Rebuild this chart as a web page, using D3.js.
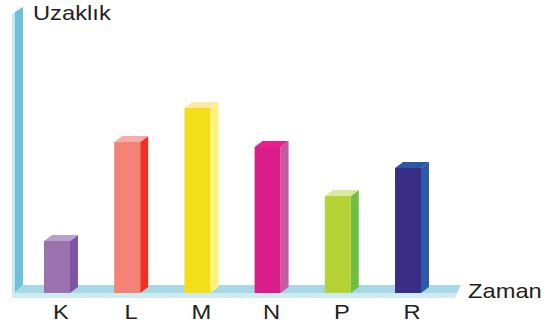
<!DOCTYPE html>
<html>
<head>
<meta charset="utf-8">
<script src="https://cdn.jsdelivr.net/npm/d3@7"></script>
<style>
html,body{margin:0;padding:0;background:#fff;}
svg{display:block;}
text{font-family:"Liberation Sans",Arial,Helvetica,sans-serif;fill:#231f20;}
</style>
</head>
<body>
<svg id="chart" width="553" height="329"></svg>
<script>
// ---- data ----
const categories = ["K", "L", "M", "N", "P", "R"];
const values = [52, 151, 185, 146, 97, 125];
const yAxisTitle = "Uzaklık";
const xAxisTitle = "Zaman";

// ---- styles ----
const frontColors = ["#9b71b0", "#f58276", "#f2df1a", "#d91e8c", "#b5d334", "#3a2d85"];
const sideColors  = ["#7e55a5", "#ee3124", "#fff27e", "#c35aa2", "#70bf44", "#2c5aa8"];
const topColors   = ["#b9a1cd", "#f9aea5", "#fde8a6", "#ea1f8b", "#d9e9a1", "#2d57a6"];

const svg = d3.select("#chart");
const baseY = 293;
const dx = 8, dy = 6;

const x = d3.scaleBand()
  .domain(categories)
  .range([8.9, 456.1])
  .paddingInner(0.63)
  .paddingOuter(0.5);

const y = d3.scaleLinear().domain([0, 200]).range([baseY, baseY - 200]);

// ---- vertical axis (3D bar) ----
svg.append("polygon")
  .attr("points", "12,14 15,12 15,298 12,298")
  .attr("fill", "#c6e7ef");
svg.append("polygon")
  .attr("points", "15,12 23,7 23,285 15,293")
  .attr("fill", "#6fc1d7");

// ---- floor ----
svg.append("polygon")
  .attr("points", "15,293 23,285 461,285 457,293")
  .attr("fill", "#a8d8e3");
svg.append("polygon")
  .attr("points", "12,293 457,293 455,298 12,298")
  .attr("fill", "#cdebf1");

// ---- bars ----
const w = x.bandwidth();
const g = svg.append("g");
categories.forEach((c, i) => {
  const x0 = x(c);
  const yt = y(values[i]);
  const yb = y(0);
  g.append("polygon")
    .attr("points", [[x0 + w, yt], [x0 + w + dx, yt - dy], [x0 + w + dx, yb - dy], [x0 + w, yb]].map(p => p.join(",")).join(" "))
    .attr("fill", sideColors[i]);
  g.append("polygon")
    .attr("points", [[x0, yt], [x0 + dx, yt - dy], [x0 + w + dx, yt - dy], [x0 + w, yt]].map(p => p.join(",")).join(" "))
    .attr("fill", topColors[i]);
  g.append("rect")
    .attr("x", x0).attr("y", yt)
    .attr("width", w).attr("height", yb - yt)
    .attr("fill", frontColors[i]);
});

// ---- category labels ----
const sx = 1.13;
categories.forEach(c => {
  svg.append("text")
    .attr("transform", `translate(${x(c) + w / 2 + 4},319) scale(${sx},1)`)
    .attr("text-anchor", "middle")
    .style("font-size", "21px")
    .text(c);
});

// ---- axis titles ----
svg.append("text")
  .attr("transform", `translate(33,20) scale(${sx},1)`)
  .style("font-size", "21px")
  .text(yAxisTitle);
svg.append("text")
  .attr("transform", `translate(468,298) scale(${sx},1)`)
  .style("font-size", "21px")
  .text(xAxisTitle);
</script>
</body>
</html>
